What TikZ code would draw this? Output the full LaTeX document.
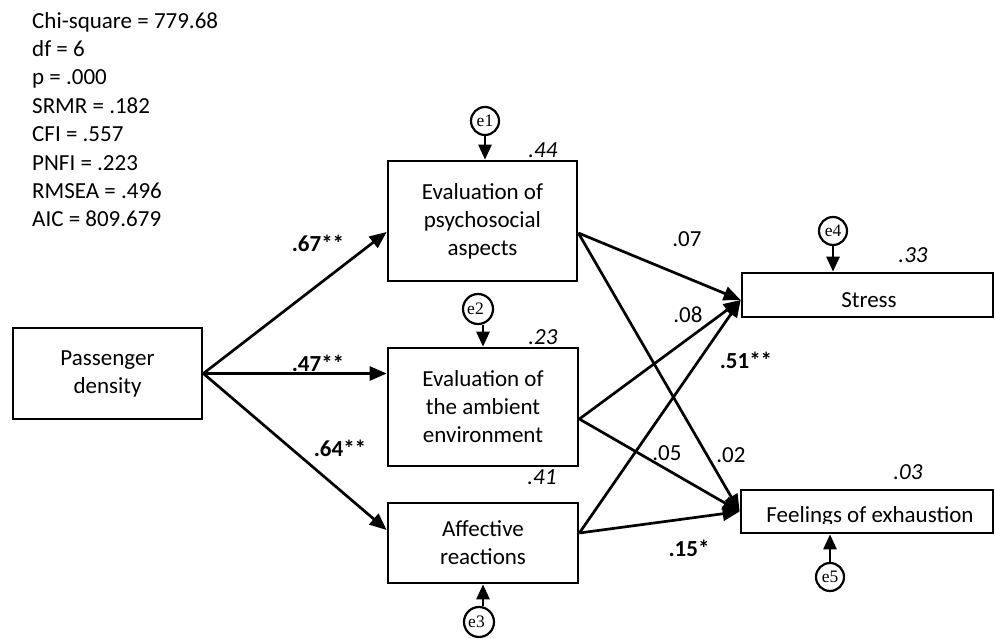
\documentclass[tikz,border=0pt]{standalone}
\usepackage{fontspec}
\setmainfont{Carlito}
\newfontfamily\errfont{Liberation Serif}
\usetikzlibrary{arrows.meta,calc}

\tikzset{
  var/.style={draw, line width=2.7pt, rectangle, inner sep=0pt, align=center,
    font=\fontsize{23}{28}\selectfont},
  err/.style={draw, line width=2.2pt, circle, minimum size=28pt, inner sep=0pt,
    font=\errfont\fontsize{17.5}{17.5}\selectfont},
  path/.style={line width=2.7pt, -{Triangle[length=17pt,width=14pt]}},
  erra/.style={line width=2.7pt, -{Triangle[length=15pt,width=13pt]}},
  coef/.style={font=\fontsize{23}{28}\selectfont, inner sep=0pt},
  bcoef/.style={font=\bfseries\fontsize{23}{28}\selectfont, inner sep=0pt},
  rsq/.style={font=\itshape\fontsize{23}{28}\selectfont, inner sep=0pt},
}

\begin{document}
\begin{tikzpicture}[x=1pt,y=-1pt]
\useasboundingbox (0,0) rectangle (995,639);

% fit statistics
\node[anchor=north west, align=left, inner sep=0pt,
      font=\fontsize{23}{28.4}\selectfont] (fit) at (32,12)
  {Chi-square = 779.68\\ df = 6\\ p = .000\\ SRMR = .182\\ CFI = .557\\
   PNFI = .223\\ RMSEA = .496\\ AIC = 809.679};

% observed variables
\node[var, minimum width=189pt, minimum height=91pt]  (pd)  at (107.5,373.5) {Passenger\\density};
\node[var, minimum width=189pt, minimum height=120pt] (psy) at (482.5,221) {Evaluation of\\psychosocial\\aspects};
\node[var, minimum width=190pt, minimum height=118pt] (amb) at (483,407) {Evaluation of\\the ambient\\environment};
\node[var, minimum width=190pt, minimum height=80pt]  (aff) at (483,543) {Affective\\reactions};
\node[var, minimum width=251pt, minimum height=44pt]  (str) at (867.5,295) {};
\node[coef] (strt) at (869,300) {Stress};
\node[var, minimum width=252pt, minimum height=43pt]  (exh) at (867,511.5) {};
\begin{scope}
  \clip (745,480) rectangle (990,523.5);
  \node[coef, anchor=base] (exht) at (870,522) {Feelings of exhaustion};
\end{scope}

% error terms
\node[err] (e1) at (485,121) {e1};
\node[err, minimum size=30pt] (e2) at (478,309) {\hspace*{-5pt}e2};
\node[err, minimum size=30pt] (e3) at (479,622) {\hspace*{-5pt}e3};
\node[err] (e4) at (833,231) {e4};
\node[err] (e5) at (830,577) {e5};

\draw[erra] (e1.south) -- (e1.south |- psy.north);
\draw[erra] ([xshift=5pt]e2.south) -- ([xshift=5pt]e2.south |- amb.north);
\draw[erra] ([xshift=4pt]e3.north) -- ([xshift=4pt]e3.north |- aff.south);
\draw[erra] (e4.south) -- (e4.south |- str.north);
\draw[erra] (e5.north) -- (e5.north |- exh.south);

% structural paths
\draw[path] (pd.east) -- ([yshift=-11pt]psy.west);
\draw[path] (pd.east) -- (amb.west |- pd.east);
\draw[path] (pd.east) -- ([yshift=13pt]aff.west);

\draw[path] ([yshift=-12pt]psy.east) -- ([yshift=-5pt]str.west);
\draw[path] ([yshift=-12pt]amb.east) -- ([yshift=-5pt]str.west);
\draw[path] ([yshift=10pt]aff.east) -- ([yshift=-5pt]str.west);

\draw[path] ([yshift=-12pt]psy.east) -- (exh.west);
\draw[path] ([yshift=-12pt]amb.east) -- (exh.west);
\draw[path] ([yshift=10pt]aff.east) -- (exh.west);

% coefficients
\node[bcoef] (c1) at (318,243) {.67**};
\node[bcoef] (c2) at (318,363) {.47**};
\node[bcoef] (c3) at (340,448) {.64**};
\node[coef]  (c4) at (687,239) {.07};
\node[coef]  (c5) at (688,315) {.08};
\node[bcoef] (c6) at (746,360) {.51**};
\node[coef]  (c7) at (667,453) {.05};
\node[coef]  (c8) at (731,455) {.02};
\node[bcoef] (c9) at (689,548) {.15*};

% explained variance
\node[rsq] (r1) at (543,150) {.44};
\node[rsq] (r2) at (543,337) {.23};
\node[rsq] (r3) at (542,477) {.41};
\node[rsq] (r4) at (913,255) {.33};
\node[rsq] (r5) at (908,472) {.03};
\end{tikzpicture}
\end{document}
